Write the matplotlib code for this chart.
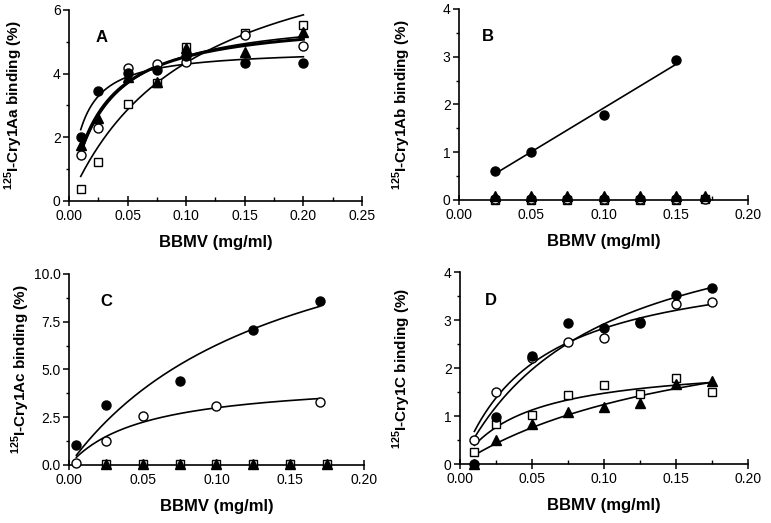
import matplotlib
matplotlib.use('Agg')
import matplotlib.pyplot as plt
from matplotlib.ticker import MultipleLocator
import numpy as np

plt.rcParams['font.family'] = ['Liberation Sans', 'DejaVu Sans']
plt.rcParams['mathtext.fontset'] = 'custom'
plt.rcParams['mathtext.rm'] = 'Liberation Sans'
plt.rcParams['mathtext.bf'] = 'Liberation Sans:bold'

# panel A: Cry1Aa
a_x = [0.01, 0.025, 0.05, 0.075, 0.10, 0.15, 0.20]
a_fill_circle = [2.02, 3.46, 4.03, 4.10, 4.56, 4.33, 4.33]
a_open_circle = [1.43, 2.30, 4.17, 4.30, 4.36, 5.20, 4.88]
a_triangle = [1.76, 2.62, 3.90, 3.75, 4.80, 4.67, 5.32]
a_square = [0.37, 1.22, 3.05, 3.72, 4.85, 5.29, 5.53]

# panel B: Cry1Ab
b_x_circle = [0.025, 0.05, 0.10, 0.15]
b_fill_circle = [0.61, 1.01, 1.77, 2.93]
b_x_zero = [0.025, 0.05, 0.075, 0.10, 0.125, 0.15, 0.17]
b_triangle = [0.08, 0.08, 0.08, 0.08, 0.08, 0.08, 0.09]
b_open_circle = [0.02, 0.02, 0.02, 0.02, 0.02, 0.02, 0.03]
b_square = [0.01, 0.01, 0.01, 0.01, 0.01, 0.01, 0.02]

# panel C: Cry1Ac
c_x_fill = [0.005, 0.025, 0.075, 0.125, 0.17]
c_fill_circle = [1.03, 3.12, 4.41, 7.09, 8.60]
c_x_open = [0.005, 0.025, 0.05, 0.10, 0.17]
c_open_circle = [0.09, 1.25, 2.58, 3.10, 3.31]
c_x_zero = [0.025, 0.05, 0.075, 0.10, 0.125, 0.15, 0.175]
c_triangle = [0.06, 0.06, 0.06, 0.06, 0.06, 0.06, 0.06]
c_square = [0.03, 0.03, 0.03, 0.03, 0.03, 0.03, 0.03]

# panel D: Cry1C
d_x = [0.01, 0.025, 0.05, 0.075, 0.10, 0.125, 0.15, 0.175]
d_fill_circle = [0.0, 0.97, 2.24, 2.94, 2.83, 2.94, 3.53, 3.67]
d_open_circle = [0.50, 1.50, 2.20, 2.55, 2.62, 2.95, 3.33, 3.37]
d_square = [0.24, 0.83, 1.02, 1.44, 1.64, 1.46, 1.79, 1.51]
d_triangle = [0.0, 0.49, 0.83, 1.08, 1.18, 1.27, 1.67, 1.72]


def hyperbola_fit(x, y):
    # least-squares fit of y = Bmax*x/(Kd+x), grid search over Kd
    x = np.asarray(x, float)
    y = np.asarray(y, float)
    best = None
    for k in np.logspace(-3.5, 1, 2000):
        f = x / (k + x)
        b = np.sum(y * f) / np.sum(f * f)
        err = np.sum((y - b * f) ** 2)
        if best is None or err < best[0]:
            best = (err, b, k)
    xs = np.linspace(x.min(), x.max(), 200)
    return xs, best[1] * xs / (best[2] + xs)


def fit_line(ax, x, y, lw=1.2):
    xs, ys = hyperbola_fit(x, y)
    ax.plot(xs, ys, color='black', lw=lw, zorder=2)


ms = 6.5
styles = {
    'fc': dict(marker='o', mfc='black', mec='black', ms=ms),
    'oc': dict(marker='o', mfc='white', mec='black', ms=ms, mew=1.0),
    'tr': dict(marker='^', mfc='black', mec='black', ms=ms),
    'sq': dict(marker='s', mfc='white', mec='black', ms=ms - 0.5, mew=1.0),
}


def pts(ax, x, y, key):
    ax.plot(x, y, ls='none', zorder=3, **styles[key])


def style_axes(ax, xmax, ymax, ymajor, yfmt, letter, ylabel, lab_x, let_x):
    ax.set_xlim(0, xmax)
    ax.set_ylim(0, ymax)
    for s in ['top', 'right']:
        ax.spines[s].set_visible(False)
    for s in ['left', 'bottom']:
        ax.spines[s].set_linewidth(1.2)
    ax.xaxis.set_major_locator(MultipleLocator(0.05))
    ax.xaxis.set_minor_locator(MultipleLocator(0.025))
    ax.yaxis.set_major_locator(MultipleLocator(ymajor))
    ax.yaxis.set_minor_locator(MultipleLocator(ymajor / 2))
    ax.xaxis.set_major_formatter(plt.FuncFormatter(lambda v, p: f'{v:.2f}'))
    ax.yaxis.set_major_formatter(plt.FuncFormatter(lambda v, p: yfmt.format(v)))
    ax.tick_params(axis='x', which='major', direction='inout', length=7, width=1.1,
                   labelsize=10, pad=2)
    ax.tick_params(axis='x', which='minor', direction='in', length=3, width=1.0)
    ax.tick_params(axis='y', which='major', direction='out', length=4, width=1.1,
                   labelsize=10, pad=2)
    ax.tick_params(axis='y', which='minor', direction='out', length=2.5, width=1.0)
    ax.set_xlabel('BBMV (mg/ml)', fontsize=12, fontweight='bold', labelpad=9)
    ax.set_ylabel(ylabel, fontsize=11, fontweight='bold')
    ax.yaxis.set_label_coords(lab_x, 0.5)
    ax.text(let_x, 0.83, letter, transform=ax.transAxes, fontsize=12,
            fontweight='bold')


fig = plt.figure(figsize=(7.71, 5.23), dpi=100)
axA = fig.add_axes([0.0895, 0.6157, 0.38, 0.3653])
axB = fig.add_axes([0.5953, 0.6176, 0.3749, 0.3652])
axC = fig.add_axes([0.0895, 0.1109, 0.3826, 0.3652])
axD = fig.add_axes([0.5966, 0.1128, 0.3736, 0.3671])

# A
fit_line(axA, a_x, a_fill_circle)
fit_line(axA, a_x, a_open_circle)
fit_line(axA, a_x, a_triangle, lw=2.2)
fit_line(axA, a_x, a_square)
pts(axA, a_x, a_square, 'sq')
pts(axA, a_x, a_open_circle, 'oc')
pts(axA, a_x, a_triangle, 'tr')
pts(axA, a_x, a_fill_circle, 'fc')
style_axes(axA, 0.25, 6, 2, '{:.0f}', 'A', r'$^{\mathbf{125}}$I-Cry1Aa binding (%)',
           -0.150, 0.09)

# B
coef = np.polyfit(b_x_circle, b_fill_circle, 1)
xs = np.array([min(b_x_circle), max(b_x_circle)])
axB.plot(xs, np.polyval(coef, xs), color='black', lw=1.2, zorder=2)
pts(axB, b_x_circle, b_fill_circle, 'fc')
pts(axB, b_x_zero, b_square, 'sq')
pts(axB, b_x_zero, b_open_circle, 'oc')
pts(axB, b_x_zero, b_triangle, 'tr')
style_axes(axB, 0.20, 4, 1, '{:.0f}', 'B', r'$^{\mathbf{125}}$I-Cry1Ab binding (%)',
           -0.159, 0.08)

# C
fit_line(axC, c_x_fill, c_fill_circle)
fit_line(axC, c_x_open, c_open_circle)
pts(axC, c_x_fill, c_fill_circle, 'fc')
pts(axC, c_x_open, c_open_circle, 'oc')
pts(axC, c_x_zero, c_square, 'sq')
pts(axC, c_x_zero, c_triangle, 'tr')
style_axes(axC, 0.20, 10, 2.5, '{:.1f}', 'C', r'$^{\mathbf{125}}$I-Cry1Ac binding (%)',
           -0.125, 0.105)

# D
fit_line(axD, d_x, d_fill_circle)
fit_line(axD, d_x, d_open_circle)
fit_line(axD, d_x, d_square)
fit_line(axD, d_x, d_triangle)
pts(axD, d_x, d_square, 'sq')
pts(axD, d_x, d_open_circle, 'oc')
pts(axD, d_x, d_triangle, 'tr')
pts(axD, d_x, d_fill_circle, 'fc')
style_axes(axD, 0.20, 4, 1, '{:.0f}', 'D', r'$^{\mathbf{125}}$I-Cry1C binding (%)',
           -0.163, 0.087)

for ax in [axA, axB, axC, axD]:
    for line in ax.lines:
        line.set_clip_on(False)

fig.savefig('out.png', dpi=100)
